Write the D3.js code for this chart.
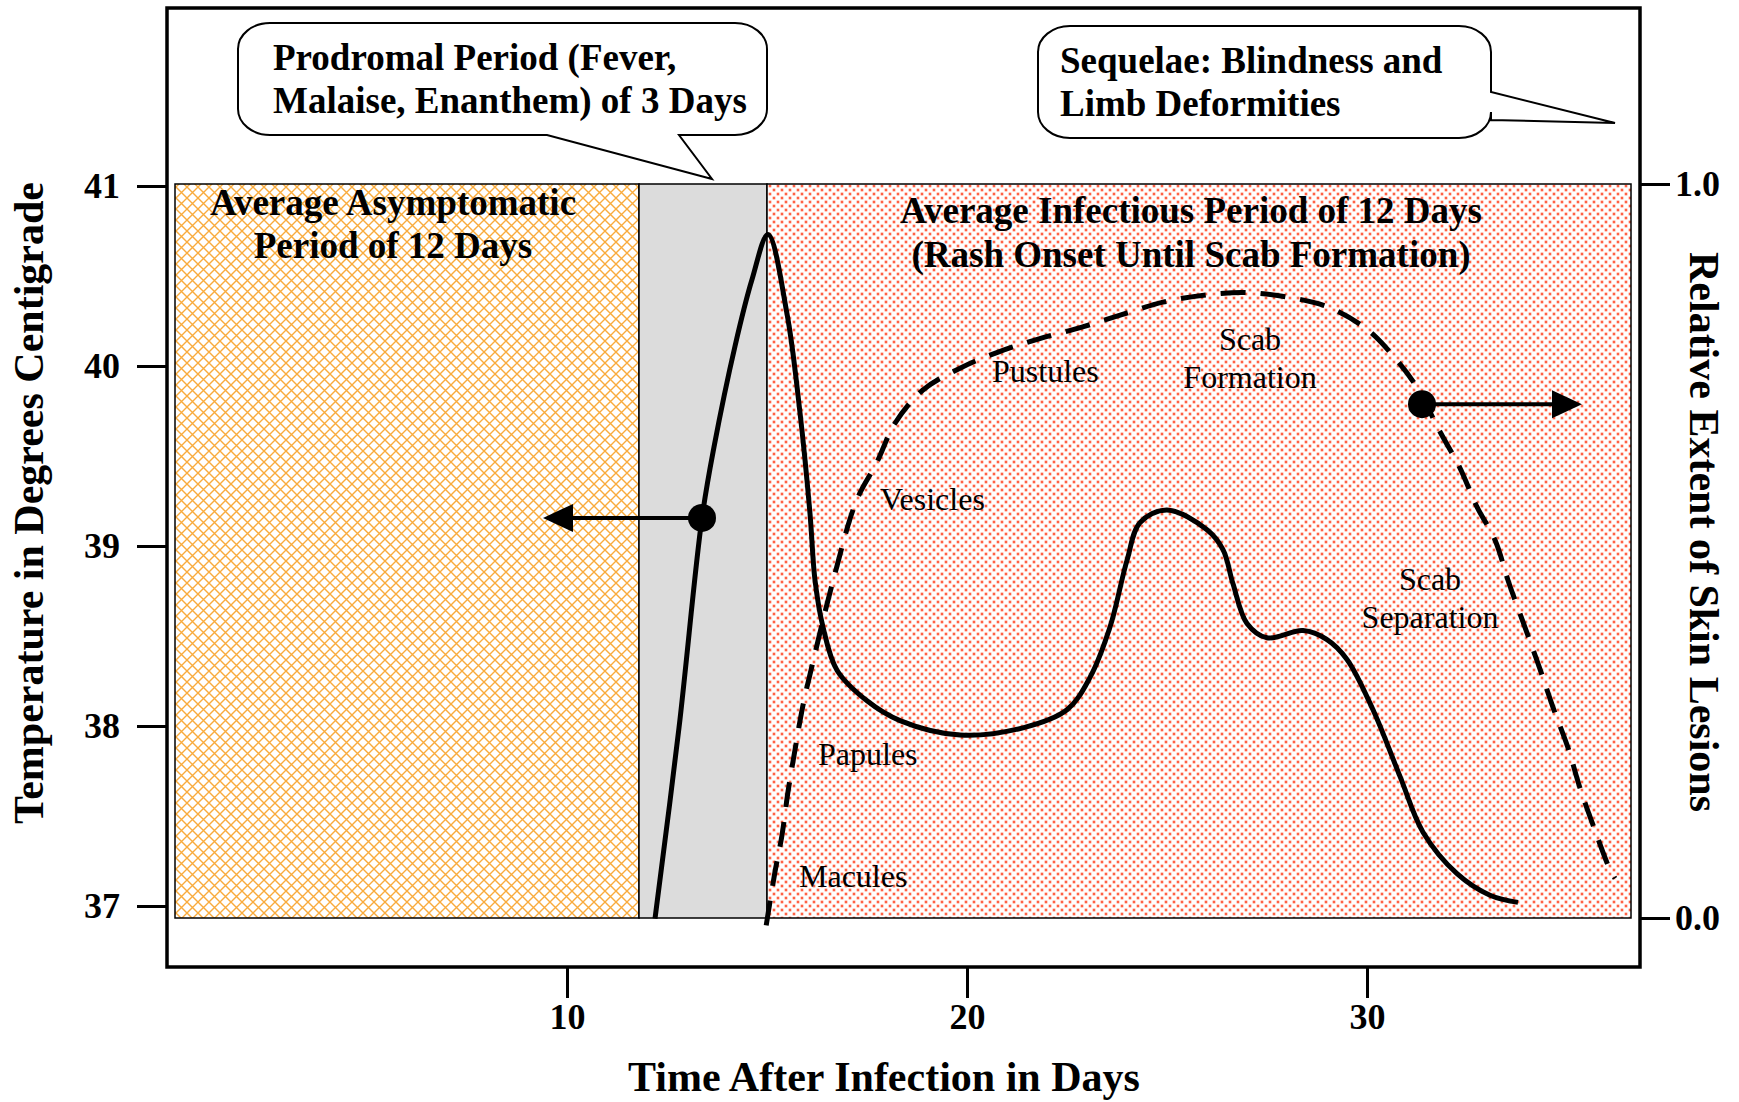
<!DOCTYPE html>
<html>
<head>
<meta charset="utf-8">
<script src="https://cdn.jsdelivr.net/npm/d3@7"></script>
<style>
  body { margin: 0; background: #fff; }
  svg { display: block; font-family: "Liberation Serif", "Times New Roman", serif; }
</style>
</head>
<body>
<svg id="chart" width="1739" height="1102"></svg>
<script>
// Smallpox clinical course: fever curve and skin lesion curve
// values

// temperature (solid line), degrees centigrade
var tempDays   = [12.2, 12.8, 13.375, 13.675, 14.2, 14.625, 15.025, 15.5, 15.825, 16.075, 16.2, 16.4, 16.75, 17.5, 18.325, 19.825, 21.4, 22.5, 23.075, 23.575, 24.0, 24.325, 25.0, 26.0, 26.4, 26.65, 27.0, 27.5, 28.4, 29.0, 29.5, 30.15, 30.825, 31.4, 32.25, 33.075, 33.775];
var tempValues = [36.93, 37.99, 39.156, 39.55, 40.11, 40.48, 40.73, 40.29, 39.74, 39.18, 38.81, 38.55, 38.31, 38.14, 38.03, 37.95, 37.99, 38.09, 38.27, 38.55, 38.92, 39.13, 39.2, 39.09, 38.98, 38.79, 38.57, 38.49, 38.53, 38.48, 38.37, 38.09, 37.72, 37.41, 37.18, 37.06, 37.02];

// relative extent of skin lesions (dashed line), 0..1
var lesionDays   = [14.98, 15.2, 15.375, 15.525, 15.7, 15.9, 16.15, 16.65, 17.24, 17.74, 18.2, 18.89, 19.825, 20.78, 21.8, 22.87, 23.87, 24.9, 26.0, 27.0, 28.0, 29.05, 30.0, 30.7, 31.25, 31.8, 32.325, 32.75, 33.2, 33.55, 33.95, 34.3, 34.65, 35.025, 35.325, 35.675, 36.05, 36.2];
var lesionValues = [-0.01, 0.063, 0.113, 0.172, 0.229, 0.29, 0.349, 0.459, 0.569, 0.62, 0.674, 0.719, 0.749, 0.771, 0.789, 0.805, 0.822, 0.839, 0.849, 0.852, 0.846, 0.832, 0.802, 0.763, 0.723, 0.665, 0.613, 0.56, 0.515, 0.456, 0.396, 0.343, 0.287, 0.232, 0.177, 0.123, 0.069, 0.054];

// shaded periods (days)
var periodNames = ["asymptomatic", "prodromal", "infectious"];
var periodStart = [0.2, 11.8, 15.0];
var periodEnd   = [11.8, 15.0, 36.6];

// axis ticks
var dayTicks = [10, 20, 30];
var tempTicks = [37, 38, 39, 40, 41];
var extentTicks = [0.0, 1.0];

// lesion stage names
var stageNames = [["Macules"], ["Papules"], ["Vesicles"], ["Pustules"], ["Scab", "Formation"], ["Scab", "Separation"]];

var svg = d3.select("#chart");

// frame of the plot
var frame = {left: 167, right: 1640, top: 8, bottom: 967};

// scales
var x = d3.scaleLinear().domain([0, 36.825]).range([frame.left, frame.right]);
var yTemp = d3.scaleLinear().domain([37, 41]).range([906, 186]);
var yExt = d3.scaleLinear().domain([0, 1]).range([918, 184]);

// patterns
var defs = svg.append("defs");

var hatch = defs.append("pattern")
    .attr("id", "hatch")
    .attr("patternUnits", "userSpaceOnUse")
    .attr("width", 11).attr("height", 11);
hatch.append("rect").attr("width", 11).attr("height", 11).attr("fill", "#fff");
hatch.append("path")
    .attr("d", "M-1,-1 L12,12 M-1,12 L12,-1")
    .attr("stroke", "#f9ab3c")
    .attr("stroke-width", 1.4)
    .attr("fill", "none");

var dots = defs.append("pattern")
    .attr("id", "dots")
    .attr("patternUnits", "userSpaceOnUse")
    .attr("width", 8).attr("height", 8);
dots.append("rect").attr("width", 8).attr("height", 8).attr("fill", "#fff");
[[2, 2], [6, 6]].forEach(function(p) {
    dots.append("circle").attr("cx", p[0]).attr("cy", p[1]).attr("r", 1.9).attr("fill", "#ffc2b4");
    dots.append("circle").attr("cx", p[0]).attr("cy", p[1]).attr("r", 1.1).attr("fill", "#ff4a2a");
});

var periodFill = {asymptomatic: "url(#hatch)", prodromal: "#dcdcdc", infectious: "url(#dots)"};

// shaded periods
svg.append("g")
    .selectAll("rect")
    .data(periodNames)
    .enter().append("rect")
        .attr("x", function(d, i) { return x(periodStart[i]); })
        .attr("width", function(d, i) { return x(periodEnd[i]) - x(periodStart[i]); })
        .attr("y", yExt(1))
        .attr("height", yExt(0) - yExt(1))
        .attr("fill", function(d) { return periodFill[d]; })
        .attr("stroke", "#000")
        .attr("stroke-width", 1.5);

// region titles
var bold = function(sel) { return sel.attr("font-weight", "bold").attr("font-size", 37).attr("fill", "#000"); };

function multiline(g, lines, lh) {
    lines.forEach(function(t, i) {
        g.append("tspan").attr("x", g.attr("x")).attr("dy", i === 0 ? 0 : lh).text(t);
    });
}

var t1 = svg.append("text").attr("x", x(5.65)).attr("y", yTemp(41 + (186 - 215) / 180))
    .attr("text-anchor", "middle").call(bold);
multiline(t1, ["Average Asymptomatic", "Period of 12 Days"], 43);

var t2 = svg.append("text").attr("x", x(25.6)).attr("y", yTemp(41 + (186 - 223) / 180))
    .attr("text-anchor", "middle").call(bold);
multiline(t2, ["Average Infectious Period of 12 Days", "(Rash Onset Until Scab Formation)"], 44);

// stage labels, positioned against the lesion scale
var stagePos = [[15.8, 0.042, "start"], [16.275, 0.208, "start"], [17.825, 0.556, "start"], [20.625, 0.730, "start"], [27.075, 0.774, "middle"], [31.575, 0.447, "middle"]];
stageNames.forEach(function(lines, i) {
    var t = svg.append("text")
        .attr("x", x(stagePos[i][0]))
        .attr("y", yExt(stagePos[i][1]))
        .attr("text-anchor", stagePos[i][2])
        .attr("font-size", 32)
        .attr("fill", "#000");
    multiline(t, lines, 38);
});

// curves
var tempLine = d3.line()
    .x(function(d, i) { return x(tempDays[i]); })
    .y(function(d) { return yTemp(d); })
    .curve(d3.curveCatmullRom.alpha(0.5));

var lesionLine = d3.line()
    .x(function(d, i) { return x(lesionDays[i]); })
    .y(function(d) { return yExt(d); })
    .curve(d3.curveCatmullRom.alpha(0.5));

svg.append("path")
    .attr("d", tempLine(tempValues))
    .attr("fill", "none")
    .attr("stroke", "#000")
    .attr("stroke-width", 5);

svg.append("path")
    .attr("d", lesionLine(lesionValues))
    .attr("fill", "none")
    .attr("stroke", "#000")
    .attr("stroke-width", 5)
    .attr("stroke-dasharray", "25,15");

// axis pointers: dot on the curve and arrow toward the matching axis
function pointer(cx, cy, tipX) {
    var dir = tipX > cx ? 1 : -1;
    var base = tipX - dir * 30;
    svg.append("line")
        .attr("x1", cx).attr("y1", cy).attr("x2", base).attr("y2", cy)
        .attr("stroke", "#000").attr("stroke-width", 4);
    svg.append("path")
        .attr("d", "M" + tipX + "," + cy + "L" + base + "," + (cy - 14) + "L" + base + "," + (cy + 14) + "Z")
        .attr("fill", "#000");
    svg.append("circle").attr("cx", cx).attr("cy", cy).attr("r", 14).attr("fill", "#000");
}
pointer(x(tempDays[2]), yTemp(tempValues[2]), x(9.4));
pointer(x(31.375), yExt(0.70), x(35.375));

// callouts
function callout(x0, y0, x1, y1, tail, lines, tx, ty) {
    var rx = 32, ry = 26;
    var p = "M" + (x0 + rx) + "," + y0 + "H" + (x1 - rx) +
        "A" + rx + "," + ry + " 0 0 1 " + x1 + "," + (y0 + ry);
    if (tail.side === "right") {
        p += "V" + tail.a + "L" + tail.tipX + "," + tail.tipY + "L" + x1 + "," + tail.b;
    }
    p += "V" + (y1 - ry) + "A" + rx + "," + ry + " 0 0 1 " + (x1 - rx) + "," + y1;
    if (tail.side === "bottom") {
        p += "H" + tail.b + "L" + tail.tipX + "," + tail.tipY + "L" + tail.a + "," + y1;
    }
    p += "H" + (x0 + rx) + "A" + rx + "," + ry + " 0 0 1 " + x0 + "," + (y1 - ry) +
        "V" + (y0 + ry) + "A" + rx + "," + ry + " 0 0 1 " + (x0 + rx) + "," + y0 + "Z";
    svg.append("path").attr("d", p).attr("fill", "#fff").attr("stroke", "#000").attr("stroke-width", 2);
    var t = svg.append("text").attr("x", tx).attr("y", ty).call(bold);
    multiline(t, lines, 43);
}

var tp = function(px) { return yTemp(41 + (186 - px) / 180); };

callout(x(1.775), tp(23), x(15.0), tp(135),
    {side: "bottom", a: x(9.5), b: x(12.8), tipX: x(13.625), tipY: tp(179)},
    ["Prodromal Period (Fever,", "Malaise, Enanthem) of 3 Days"], x(2.65), tp(70));

callout(x(21.775), tp(26), x(33.1), tp(138),
    {side: "right", a: tp(92), b: tp(120), tipX: x(36.2), tipY: tp(123)},
    ["Sequelae: Blindness and", "Limb Deformities"], x(22.325), tp(73));

// frame
svg.append("rect")
    .attr("x", frame.left).attr("y", frame.top)
    .attr("width", frame.right - frame.left).attr("height", frame.bottom - frame.top)
    .attr("fill", "none").attr("stroke", "#000").attr("stroke-width", 3.5);

// axes
function styleAxis(g) {
    g.select(".domain").remove();
    g.selectAll(".tick line").attr("stroke", "#000").attr("stroke-width", 3);
    g.selectAll(".tick text").attr("font-family", "Liberation Serif, Times New Roman, serif")
        .attr("font-weight", "bold").attr("font-size", 36).attr("fill", "#000");
}

svg.append("g")
    .attr("transform", "translate(" + frame.left + ",0)")
    .call(d3.axisLeft(yTemp).tickValues(tempTicks).tickSize(30).tickPadding(17).tickFormat(d3.format("d")))
    .call(styleAxis);

svg.append("g")
    .attr("transform", "translate(" + frame.right + ",0)")
    .call(d3.axisRight(yExt).tickValues(extentTicks).tickSize(30).tickPadding(5).tickFormat(d3.format(".1f")))
    .call(styleAxis);

svg.append("g")
    .attr("transform", "translate(0," + frame.bottom + ")")
    .call(d3.axisBottom(x).tickValues(dayTicks).tickSize(31).tickPadding(5).tickFormat(d3.format("d")))
    .call(styleAxis);

// axis titles
svg.append("text")
    .attr("x", 884).attr("y", 1091)
    .attr("text-anchor", "middle")
    .attr("font-weight", "bold").attr("font-size", 42)
    .text("Time After Infection in Days");

svg.append("text")
    .attr("transform", "translate(43,503) rotate(-90)")
    .attr("text-anchor", "middle")
    .attr("font-weight", "bold").attr("font-size", 42)
    .text("Temperature in Degrees Centigrade");

svg.append("text")
    .attr("transform", "translate(1690,532) rotate(90)")
    .attr("text-anchor", "middle")
    .attr("font-weight", "bold").attr("font-size", 42)
    .text("Relative Extent of Skin Lesions");
</script>
</body>
</html>
